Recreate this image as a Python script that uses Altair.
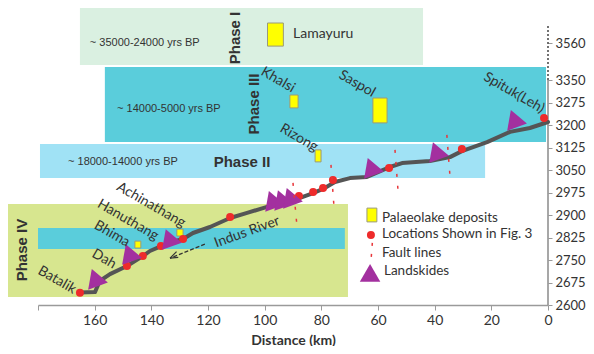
import altair as alt
import pandas as pd

# ---------------- axes ----------------
x_tick_values = [0, 20, 40, 60, 80, 100, 120, 140, 160, 180]
x_tick_labels = ["0", "20", "40", "60", "80", "100", "120", "140", "160", ""]
y_tick_values = [2600, 2675, 2750, 2825, 2900, 2975, 3050, 3125, 3200, 3275, 3350, 3473]
y_tick_labels = ["2600", "2675", "2750", "2825", "2900", "2975", "3050", "3125",
                 "3200", "3275", "3350", "3560"]

# ---------------- phase boxes (km, elevation m) ----------------
phase_names = ["Phase I", "Phase III", "Phase II", "Phase IV", "Phase IV band"]
phase_x1 = [165.2, 156.4, 179.3, 191.0, 180.0]
phase_x2 = [44.1, 0.7, 22.2, 70.6, 71.7]
phase_y1 = [3400, 3143, 3023, 2627, 2787]
phase_y2 = [3590, 3393, 3137, 2937, 2857]
phase_colors = ["#daf0e1", "#5acddb", "#a0e2f5", "#d7e68f", "#5acddb"]

phase_age_text = ["~ 35000-24000 yrs BP", "~ 14000-5000 yrs BP", "~ 18000-14000 yrs BP"]
phase_age_x = [161.7, 152.1, 169.4]
phase_age_y = [3473, 3253, 3077]

phase_vert_names = ["Phase I", "Phase III", "Phase IV"]
phase_vert_x = [110.5, 103.8, 185.7]
phase_vert_y = [3490, 3270, 2783]
phase_horiz_names = ["Phase II"]
phase_horiz_x = [108.0]
phase_horiz_y = [3077]

# ---------------- Indus river profile ----------------
river_km = [165.2, 159.9, 158.2, 154.6, 148.6, 143.0, 140.5, 136.3, 132.7, 128.8, 125.3,
            119.3, 112.2, 106.2, 100.6, 94.6, 87.5, 82.9, 79.4, 75.2, 69.9, 63.9, 60.0,
            55.8, 51.5, 41.7, 34.6, 30.4, 21.5, 13.4, 6.4, 0.0]
river_elev = [2642, 2643, 2680, 2703, 2730, 2763, 2780, 2797, 2810, 2820, 2840,
              2860, 2890, 2907, 2923, 2940, 2957, 2973, 2987, 3010, 3023, 3027, 3043,
              3060, 3073, 3080, 3093, 3113, 3143, 3177, 3190, 3210]

# locations shown in Fig. 3
loc_km = [165.2, 148.6, 143.0, 136.6, 128.8, 112.2, 87.9, 82.9, 79.4, 75.9, 56.1, 30.4, 1.4]
loc_elev = [2641, 2730, 2763, 2797, 2820, 2893, 2963, 2977, 2990, 3017, 3057, 3120, 3223]

# landslides
slide_km = [158.5, 146.5, 132.4, 96.0, 92.8, 89.7, 61.1, 38.1, 10.6]
slide_elev = [2680, 2763, 2813, 2940, 2943, 2950, 3050, 3103, 3210]

# fault lines (top and bottom ends)
fault_km1 = [90.0, 76.6, 54.0, 35.7]
fault_km2 = [88.6, 75.5, 52.9, 34.6]
fault_top = [3007, 3067, 3117, 3167]
fault_bot = [2863, 2923, 2977, 3030]

# palaeolake deposits
lake_names = ["Lamayuru", "Khalsi", "Saspol", "Rizong", "Hanuthang", "Achinathang"]
lake_x1 = [99.0, 91.1, 61.8, 82.2, 145.8, 131.0]
lake_x2 = [93.4, 88.2, 56.8, 80.1, 143.7, 128.8]
lake_y1 = [3463, 3257, 3207, 3077, 2790, 2830]
lake_y2 = [3540, 3300, 3290, 3117, 2813, 2853]

# place names along the valley
place_names = ["Batalik", "Dah", "Bhima", "Hanuthang", "Achinathang",
               "Khalsi", "Saspol", "Spituk(Leh)", "Rizong"]
place_km = [173.3, 156.7, 153.9, 148.3, 140.1, 95.3, 67.4, 12.0, 87.9]
place_elev = [2683, 2753, 2837, 2883, 2933, 3350, 3337, 3307, 3157]

river_label = ["Indus River"]
river_label_km = [106.2]
river_label_elev = [2843]
arrow_km = [121.1, 133.4]
arrow_elev = [2803, 2756]
arrowhead_km1 = [133.4, 133.4]
arrowhead_elev1 = [2756, 2756]
arrowhead_km2 = [131.1, 130.5]
arrowhead_elev2 = [2778, 2759]

# legend
legend_labels = ["Palaeolake deposits", "Locations Shown in Fig. 3", "Fault lines", "Landskides"]
legend_text_km = [58.6, 58.6, 58.6, 57.9]
legend_text_elev = [2889, 2836, 2772, 2713]

# ---------------- build ----------------
XS = alt.Scale(domain=[0, 180], reverse=True, nice=False, zero=False)
YS = alt.Scale(domain=[2600, 3590], nice=False, zero=False)

x_label_expr = "[" + ",".join("'%s'" % s for s in x_tick_labels) + "][indexof([" + \
    ",".join(str(v) for v in x_tick_values) + "], datum.value)]"
y_label_expr = "[" + ",".join("'%s'" % s for s in y_tick_labels) + "][indexof([" + \
    ",".join(str(v) for v in y_tick_values) + "], datum.value)]"

x_axis = alt.Axis(values=x_tick_values, labelExpr=x_label_expr, title="Distance (km)",
                  domainColor="#9a9a9a", domainWidth=1.5, tickColor="#9a9a9a", tickSize=5,
                  labelFont="Lato", labelFontSize=14, labelColor="#333333", labelPadding=3,
                  titleFont="Lato", titleFontSize=14, titleFontWeight="bold",
                  titleColor="#333333", titlePadding=6, grid=False, labelFlush=False)
y_axis = alt.Axis(orient="right", values=y_tick_values, labelExpr=y_label_expr, title=None,
                  domain=False, tickColor="#9a9a9a", tickSize=4, labelFont="Lato",
                  labelFontSize=13, labelColor="#333333", labelPadding=3, grid=False,
                  labelFlush=False)


def X(f="x"):
    return alt.X(f + ":Q", scale=XS, axis=x_axis)


def Y(f="y"):
    return alt.Y(f + ":Q", scale=YS, axis=y_axis)


boxes = pd.DataFrame({"name": phase_names, "x": phase_x1, "x2": phase_x2,
                      "y": phase_y1, "y2": phase_y2})
box_layer = alt.Chart(boxes).mark_rect().encode(
    x=X(), x2="x2", y=Y(), y2="y2",
    color=alt.Color("name:N", scale=alt.Scale(domain=phase_names, range=phase_colors),
                    legend=None))

age_df = pd.DataFrame({"t": phase_age_text, "x": phase_age_x, "y": phase_age_y})
age_layer = alt.Chart(age_df).mark_text(align="left", baseline="middle", font="Liberation Sans",
                                         fontSize=11, color="#333333").encode(
    x=X(), y=Y(), text="t:N")

pv_df = pd.DataFrame({"t": phase_vert_names, "x": phase_vert_x, "y": phase_vert_y})
pv_layer = alt.Chart(pv_df).mark_text(align="center", baseline="middle", angle=270,
                                       font="Liberation Sans", fontSize=15, fontWeight="bold",
                                       color="#333333").encode(x=X(), y=Y(), text="t:N")
ph_df = pd.DataFrame({"t": phase_horiz_names, "x": phase_horiz_x, "y": phase_horiz_y})
ph_layer = alt.Chart(ph_df).mark_text(align="center", baseline="middle",
                                       font="Liberation Sans", fontSize=15, fontWeight="bold",
                                       color="#333333").encode(x=X(), y=Y(), text="t:N")

axis_df = pd.DataFrame({"x": [0, 0], "y": [2600, 3350], "y2": [3350, 3533], "k": ["solid", "dot"]})
axis_solid = alt.Chart(axis_df[axis_df.k == "solid"]).mark_rule(color="#8a8a8a", strokeWidth=1.5).encode(
    x=X(), y=Y(), y2="y2")
axis_dot = alt.Chart(axis_df[axis_df.k == "dot"]).mark_rule(color="#444444", strokeWidth=1.5,
                                                            strokeDash=[2, 2]).encode(
    x=X(), y=Y(), y2="y2")

river_df = pd.DataFrame({"x": river_km, "y": river_elev, "i": range(len(river_km))})
river_layer = alt.Chart(river_df).mark_line(color="#555555", strokeWidth=4, strokeCap="round",
                                            strokeJoin="round").encode(
    x=X(), y=Y(), order="i:Q")

lake_df = pd.DataFrame({"n": lake_names, "x": lake_x1, "x2": lake_x2, "y": lake_y1, "y2": lake_y2})
lake_layer = alt.Chart(lake_df).mark_rect(fill="#ffff00", stroke="#9a9a7a", strokeWidth=1).encode(
    x=X(), x2="x2", y=Y(), y2="y2")

loc_df = pd.DataFrame({"x": loc_km, "y": loc_elev})
loc_layer = alt.Chart(loc_df).mark_circle(size=64, color="#ee2b2b", opacity=1).encode(x=X(), y=Y())

slide_df = pd.DataFrame({"x": slide_km, "y": slide_elev})
slide_layer = alt.Chart(slide_df).mark_point(shape="triangle-right", filled=True, size=440,
                                             color="#a3309f", opacity=1, angle=10).encode(
    x=X(), y=Y())

fault_df = pd.DataFrame({"x": fault_km1, "x2": fault_km2, "y": fault_top, "y2": fault_bot})
fault_layer = alt.Chart(fault_df).mark_rule(color="#e8363a", strokeWidth=1.5,
                                            strokeDash=[3, 9]).encode(
    x=X(), x2="x2", y=Y(), y2="y2")

place_df = pd.DataFrame({"t": place_names, "x": place_km, "y": place_elev})
place_layer = alt.Chart(place_df).mark_text(align="center", baseline="middle", angle=30,
                                             font="Lato", fontSize=14, color="#333333").encode(
    x=X(), y=Y(), text="t:N")

rl_df = pd.DataFrame({"t": river_label, "x": river_label_km, "y": river_label_elev})
rl_layer = alt.Chart(rl_df).mark_text(align="center", baseline="middle", angle=340,
                                       font="Lato", fontSize=14, color="#333333").encode(
    x=X(), y=Y(), text="t:N")

arrow_df = pd.DataFrame({"x": [arrow_km[0]], "x2": [arrow_km[1]],
                         "y": [arrow_elev[0]], "y2": [arrow_elev[1]]})
arrow_layer = alt.Chart(arrow_df).mark_rule(color="#333333", strokeWidth=1.2,
                                            strokeDash=[4, 2]).encode(
    x=X(), x2="x2", y=Y(), y2="y2")
ah_df = pd.DataFrame({"x": arrowhead_km1, "x2": arrowhead_km2,
                      "y": arrowhead_elev1, "y2": arrowhead_elev2})
ah_layer = alt.Chart(ah_df).mark_rule(color="#333333", strokeWidth=1.2).encode(
    x=X(), x2="x2", y=Y(), y2="y2")

# legend symbols
leg_rect = alt.Chart(pd.DataFrame({"x": [63.9], "x2": [60.4], "y": [2877], "y2": [2923]})).mark_rect(
    fill="#ffff00", stroke="#9a9a7a", strokeWidth=1).encode(x=X(), x2="x2", y=Y(), y2="y2")
leg_dot = alt.Chart(pd.DataFrame({"x": [62.5], "y": [2833]})).mark_circle(
    size=64, color="#ee2b2b", opacity=1).encode(x=X(), y=Y())
leg_fault = alt.Chart(pd.DataFrame({"x": [62.0], "x2": [62.4], "y": [2807], "y2": [2757]})).mark_rule(
    color="#e8363a", strokeWidth=1.5, strokeDash=[3, 8]).encode(x=X(), x2="x2", y=Y(), y2="y2")
leg_tri = alt.Chart(pd.DataFrame({"x": [62.8], "y": [2707]})).mark_point(
    shape="triangle-up", filled=True, size=420, color="#a3309f", opacity=1).encode(x=X(), y=Y())
leg_text_df = pd.DataFrame({"t": legend_labels, "x": legend_text_km, "y": legend_text_elev})
leg_text = alt.Chart(leg_text_df).mark_text(align="left", baseline="middle", font="Lato",
                                             fontSize=13.5, color="#333333").encode(
    x=X(), y=Y(), text="t:N")

lamayuru = alt.Chart(pd.DataFrame({"t": ["Lamayuru"], "x": [90.0], "y": [3503]})).mark_text(
    align="left", baseline="middle", font="Lato", fontSize=14, color="#333333").encode(
    x=X(), y=Y(), text="t:N")

chart = alt.layer(
    box_layer, age_layer, pv_layer, ph_layer, axis_solid, axis_dot,
    lake_layer, river_layer, loc_layer, slide_layer, fault_layer,
    place_layer, rl_layer, arrow_layer, ah_layer, lamayuru,
    leg_rect, leg_dot, leg_fault, leg_tri, leg_text
).properties(
    width=510, height=297,
    autosize=alt.AutoSizeParams(type="none"),
    padding={"left": 30, "top": 0, "right": 38, "bottom": 41}
).configure_view(stroke=None)

chart.save("out.html", embed_options={"renderer": "svg", "actions": False})
